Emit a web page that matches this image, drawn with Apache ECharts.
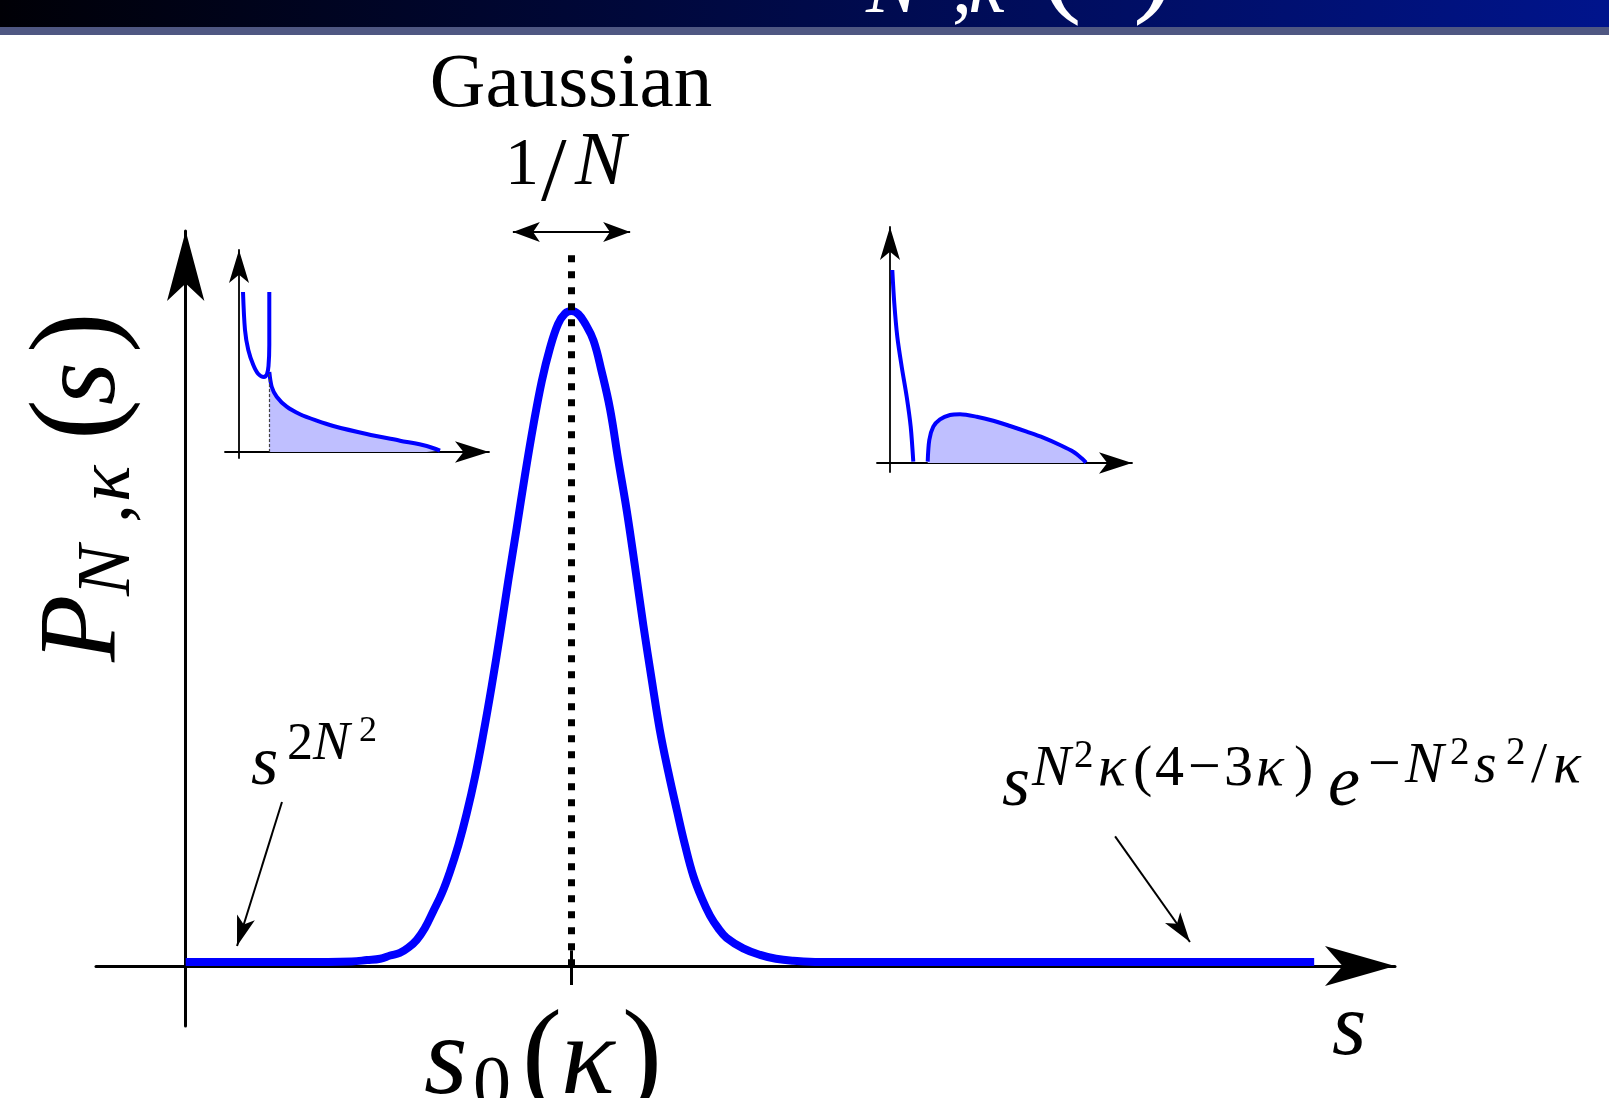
<!DOCTYPE html>
<html>
<head>
<meta charset="utf-8">
<script src="https://cdn.jsdelivr.net/npm/echarts@6/dist/echarts.min.js"></script>
<style>
  html, body { margin: 0; padding: 0; background: #ffffff; }
  #chart { width: 1609px; height: 1098px; }
</style>
</head>
<body>
<div id="chart"></div>
<script>
// ---- Main distribution P_{N,kappa}(s), with s0(kappa) = 1 and peak height = 1 ----
const curveS = [0.000, 0.150, 0.300, 0.430, 0.470, 0.504, 0.530, 0.555, 0.577, 0.599, 0.620, 0.642,
                0.664, 0.685, 0.707, 0.728, 0.750, 0.771, 0.793, 0.815, 0.836, 0.858, 0.879, 0.901,
                0.923, 0.944, 0.965, 0.983, 1.000, 1.018, 1.036, 1.057, 1.078, 1.100, 1.121, 1.143,
                1.165, 1.186, 1.208, 1.229, 1.251, 1.273, 1.294, 1.316, 1.338, 1.359, 1.380, 1.402,
                1.445, 1.489, 1.530, 1.575, 1.644, 1.900, 2.200, 2.600, 2.925];
const curveP = [0.006, 0.006, 0.006, 0.007, 0.009, 0.011, 0.016, 0.020, 0.028, 0.040, 0.058, 0.084,
                0.111, 0.144, 0.185, 0.232, 0.289, 0.353, 0.427, 0.507, 0.588, 0.669, 0.748, 0.825,
                0.893, 0.943, 0.980, 0.996, 1.000, 0.995, 0.980, 0.955, 0.908, 0.850, 0.773, 0.696,
                0.608, 0.521, 0.437, 0.360, 0.296, 0.238, 0.185, 0.137, 0.103, 0.077, 0.058, 0.043,
                0.027, 0.017, 0.011, 0.008, 0.006, 0.006, 0.006, 0.006, 0.006];
const S0 = 1.0;

// ---- Left inset: two branches, the right one shaded ----
const insetA1x = [0.040, 0.060, 0.093, 0.143, 0.193, 0.250, 0.280, 0.295, 0.303, 0.303];
const insetA1y = [1.600, 1.220, 1.020, 0.870, 0.780, 0.750, 0.780, 0.860, 1.070, 1.600];
const insetA2x = [0.303, 0.327, 0.377, 0.477, 0.610, 0.777, 0.943, 1.277, 1.610, 1.877, 2.010];
const insetA2y = [0.800, 0.653, 0.553, 0.453, 0.377, 0.313, 0.260, 0.180, 0.113, 0.060, 0.013];
const insetAcut = 0.303;

// ---- Right inset: steep left branch, shaded hump on the right ----
const insetB1x = [0.023, 0.043, 0.073, 0.117, 0.167, 0.207, 0.233];
const insetB1y = [1.930, 1.597, 1.263, 0.963, 0.663, 0.363, 0.013];
const insetB2x = [0.377, 0.393, 0.433, 0.500, 0.600, 0.700, 0.867, 1.033, 1.200, 1.367, 1.533, 1.700, 1.833, 1.917, 1.960];
const insetB2y = [0.013, 0.230, 0.363, 0.437, 0.480, 0.487, 0.463, 0.423, 0.370, 0.313, 0.253, 0.180, 0.113, 0.047, 0.003];

const zip = (xs, ys) => xs.map((x, i) => [x, ys[i]]);

// ---- math-like text helpers ----
const FONT = 'Liberation Serif';
const mctx = document.createElement('canvas').getContext('2d');
function fontStr(size, it) { return (it ? 'italic' : 'normal') + ' normal ' + size + 'px ' + FONT; }
function measureMid(it) {
  mctx.font = fontStr(100, it);
  mctx.textBaseline = 'middle';
  return mctx.measureText('H').actualBoundingBoxDescent / 100;
}
measureMid(false); measureMid(true);            // warm the faces up first
const MID_RATIO = { false: measureMid(false), true: measureMid(true) };
// distance from the 'middle' text baseline down to the alphabetic baseline
function midToBase(size, it) { return MID_RATIO[!!it] * size; }
function advance(t, size, it) {
  mctx.font = fontStr(size, it);
  mctx.textBaseline = 'alphabetic';
  return mctx.measureText(t).width;
}
// runs: {t, size, it, b (baseline), x (optional), gap (optional)}
function runs(list, fill) {
  let cx = 0;
  return list.map(r => {
    const x = (r.x != null) ? r.x : cx + (r.gap || 0);
    cx = x + advance(r.t, r.size, r.it);
    return {
      type: 'text', x: x, y: r.b - midToBase(r.size, r.it), silent: true, z: 100,
      style: {
        text: r.t, fill: fill || '#000', fontSize: r.size, fontFamily: FONT,
        fontStyle: r.it ? 'italic' : 'normal', align: 'left', verticalAlign: 'middle'
      }
    };
  });
}

const axisCommon = (w, arrow) => ({
  show: true, onZero: true, symbol: ['none', 'arrow'], symbolSize: arrow,
  lineStyle: { color: '#000', width: w }
});
const hidden = { axisTick: { show: false }, axisLabel: { show: false }, splitLine: { show: false } };
const lineBase = { type: 'line', showSymbol: false, symbol: 'none', clip: false, silent: true, z: 3 };

const option = {
  backgroundColor: '#ffffff',
  animation: false,
  grid: [
    { left: 96, top: 231, width: 1299, height: 795, containLabel: false, outerBoundsMode: 'none' },
    { left: 225, top: 250, width: 264, height: 208, containLabel: false, outerBoundsMode: 'none' },
    { left: 877, top: 227, width: 255, height: 245, containLabel: false, outerBoundsMode: 'none' }
  ],
  xAxis: [
    Object.assign({ gridIndex: 0, type: 'value', min: -0.2325, max: 3.1345, axisLine: axisCommon(3, [30, 70]) }, hidden),
    Object.assign({ gridIndex: 1, type: 'value', min: -0.14, max: 2.50, axisLine: axisCommon(1.8, [16, 34]) }, hidden),
    Object.assign({ gridIndex: 2, type: 'value', min: -0.13, max: 2.42, axisLine: axisCommon(1.8, [16, 33]) }, hidden)
  ],
  yAxis: [
    Object.assign({ gridIndex: 0, type: 'value', min: -0.0916, max: 1.1221, axisLine: axisCommon(3, [28, 70]) }, hidden),
    Object.assign({ gridIndex: 1, type: 'value', min: -0.06, max: 2.02, axisLine: axisCommon(1.8, [15, 33]) }, hidden),
    Object.assign({ gridIndex: 2, type: 'value', min: -0.09, max: 2.36, axisLine: axisCommon(1.8, [15, 33]) }, hidden)
  ],
  series: [
    Object.assign({}, lineBase, {
      id: 'curve', xAxisIndex: 0, yAxisIndex: 0, data: zip(curveS, curveP), smooth: 0.4,
      lineStyle: { color: '#0000ff', width: 8, cap: 'butt', join: 'round' }
    }),
    Object.assign({}, lineBase, {
      xAxisIndex: 1, yAxisIndex: 1, data: zip(insetA1x, insetA1y), smooth: 0.3,
      lineStyle: { color: '#0000ff', width: 4 }
    }),
    Object.assign({}, lineBase, {
      xAxisIndex: 1, yAxisIndex: 1, data: zip(insetA2x, insetA2y), smooth: 0.3,
      lineStyle: { color: '#0000ff', width: 4 },
      areaStyle: { color: '#bfbfff', opacity: 1 },
      markLine: {
        silent: true, symbol: 'none', label: { show: false }, animation: false,
        data: [[{ coord: [insetAcut, 0], lineStyle: { type: [3, 2], width: 1.2, color: '#444' } }, { coord: [insetAcut, insetA2y[0]] }]]
      }
    }),
    Object.assign({}, lineBase, {
      xAxisIndex: 2, yAxisIndex: 2, data: zip(insetB1x, insetB1y), smooth: 0.3,
      lineStyle: { color: '#0000ff', width: 4 }
    }),
    Object.assign({}, lineBase, {
      xAxisIndex: 2, yAxisIndex: 2, data: zip(insetB2x, insetB2y), smooth: 0.3,
      lineStyle: { color: '#0000ff', width: 4 },
      areaStyle: { color: '#bfbfff', opacity: 1 }
    })
  ],
  graphic: { elements: [] }
};

const black = { color: '#000' };
const solid2 = { width: 2, color: '#000', type: 'solid' };
// s0 marker, Gaussian width arrow and the two asymptotic pointers
option.series[0].markLine = {
  silent: true, symbol: 'none', animation: false, label: { show: false },
  lineStyle: { color: '#000', type: 'solid' }, itemStyle: black, z: 5,
  data: [
    [{ coord: [S0, 1.085], lineStyle: { type: [7, 9], width: 7, color: '#000', cap: 'butt' } }, { coord: [S0, 0] }],
    [{ coord: [S0, -0.029], lineStyle: { type: 'solid', width: 3, color: '#000' } }, { coord: [S0, 0.024] }],
    [{ coord: [0.848, 1.1206], symbol: 'arrow', symbolSize: [15, 27], itemStyle: black, lineStyle: solid2 },
     { coord: [1.152, 1.1206], symbol: 'arrow', symbolSize: [15, 27], itemStyle: black }],
    [{ coord: [0.2496, 0.2504], lineStyle: solid2 },
     { coord: [0.133, 0.0305], symbol: 'arrow', symbolSize: [14, 30], itemStyle: black }],
    [{ coord: [2.409, 0.198], lineStyle: solid2 },
     { coord: [2.603, 0.0366], symbol: 'arrow', symbolSize: [14, 30], itemStyle: black }]
  ]
};

option.graphic.elements = [
  // frame title bar
  { type: 'rect', silent: true, z: 50, shape: { x: 0, y: 0, width: 1609, height: 27 },
    style: { fill: new echarts.graphic.LinearGradient(0, 0, 1, 0, [{ offset: 0, color: '#000006' }, { offset: 1, color: '#00148c' }]) } },
  { type: 'rect', silent: true, z: 50, shape: { x: 0, y: 27, width: 1609, height: 8 }, style: { fill: '#4f5782' } },
  ...runs([
    { t: 'P', x: 815, b: 0, size: 115, it: true },
    { t: 'N', x: 866, b: 13, size: 80, it: true },
    { t: ',', x: 952, b: 13, size: 80, it: false },
    { t: 'κ', x: 968, b: 13, size: 80, it: true },
    { t: '(', x: 1040, b: 0, size: 125, it: false },
    { t: 's', x: 1080, b: 0, size: 115, it: true },
    { t: ')', x: 1133, b: 0, size: 125, it: false }
  ], '#ffffff'),
  // y axis title
  { type: 'group', x: 0, y: 660, rotation: Math.PI / 2, silent: true, z: 100,
    children: runs([
      { t: 'P', x: -2, b: 115, size: 110, it: true },
      { t: 'N', x: 64, b: 130, size: 76, it: true },
      { t: ',', x: 137, b: 130, size: 76, it: false },
      { t: 'κ', x: 158, b: 130, size: 76, it: true },
      { t: '(', x: 220, b: 115, size: 122, it: false },
      { t: 's', x: 255, b: 115, size: 110, it: true },
      { t: ')', x: 307, b: 115, size: 122, it: false }
    ]) },
  // x axis title
  ...runs([{ t: 's', x: 1332, b: 1055, size: 88, it: true }]),
  // s0(kappa) below the tick
  ...runs([
    { t: 's', x: 424, b: 1094, size: 112, it: true },
    { t: '0', x: 473, b: 1109, size: 76, it: false },
    { t: '(', x: 522, b: 1094, size: 120, it: false },
    { t: 'κ', x: 561, b: 1094, size: 112, it: true },
    { t: ')', x: 622, b: 1094, size: 120, it: false }
  ]),
  // Gaussian width annotation
  { type: 'text', x: 571, y: 107 - midToBase(77, false), silent: true, z: 100,
    style: { text: 'Gaussian', fill: '#000', fontSize: 77, fontFamily: FONT, align: 'center', verticalAlign: 'middle' } },
  ...runs([
    { t: '1', x: 505, b: 185, size: 68, it: false },
    { t: '/', x: 541, b: 201, size: 92, it: false },
    { t: 'N', x: 575, b: 185, size: 76, it: true }
  ]),
  // small-s behaviour
  ...runs([
    { t: 's', x: 251, b: 785, size: 70, it: true },
    { t: '2', x: 287, b: 760, size: 52, it: false },
    { t: 'N', x: 313, b: 760, size: 55, it: true },
    { t: '2', x: 359, b: 741, size: 36, it: false }
  ]),
  // large-s behaviour
  ...runs([
    { t: 's', x: 1002, b: 806, size: 72, it: true },
    { t: 'N', x: 1032, b: 786, size: 58, it: true },
    { t: '2', x: 1074, b: 767, size: 39, it: false },
    { t: 'κ', x: 1098, b: 786, size: 58, it: true },
    { t: '(', x: 1133, b: 786, size: 58, it: false },
    { t: '4', x: 1155, b: 786, size: 58, it: false },
    { t: '−', x: 1188, b: 786, size: 58, it: false },
    { t: '3', x: 1224, b: 786, size: 58, it: false },
    { t: 'κ', x: 1256, b: 786, size: 58, it: true },
    { t: ')', x: 1294, b: 786, size: 58, it: false },
    { t: 'e', x: 1328, b: 806, size: 72, it: true },
    { t: '−', x: 1368, b: 783, size: 58, it: false },
    { t: 'N', x: 1405, b: 783, size: 58, it: true },
    { t: '2', x: 1450, b: 764, size: 39, it: false },
    { t: 's', x: 1474, b: 783, size: 58, it: true },
    { t: '2', x: 1506, b: 764, size: 39, it: false },
    { t: '/', x: 1531, b: 783, size: 58, it: false },
    { t: 'κ', x: 1553, b: 783, size: 58, it: true }
  ])
];

const chart = echarts.init(document.getElementById('chart'), null, { renderer: 'canvas', width: 1609, height: 1098 });
chart.setOption(option);
</script>
</body>
</html>
